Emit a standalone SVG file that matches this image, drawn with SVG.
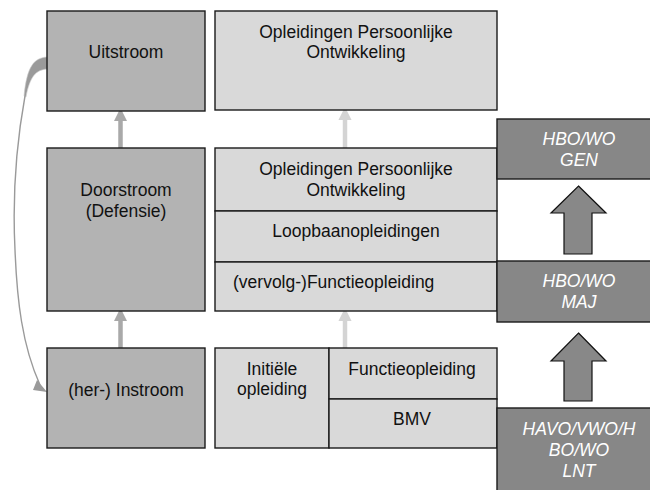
<svg xmlns="http://www.w3.org/2000/svg" width="650" height="490" viewBox="0 0 650 490">
<defs>
<style>
.box{stroke:#1a1a1a;stroke-width:1.4}
.dark{fill:#b3b3b3}
.light{fill:#d9d9d9}
.blk{fill:#878787}
text{font-family:"Liberation Sans",Arial,sans-serif;font-size:17.5px;fill:#111;text-anchor:middle}
.w{fill:#fff;font-style:italic}
.thinA{stroke-width:4.5;fill:none}
</style>
<marker id="ah1" markerWidth="3" markerHeight="3" refX="1.2" refY="1.5" orient="auto" markerUnits="strokeWidth" viewBox="0 0 3 3"><path d="M0,0 L3,1.5 L0,3 z" fill="#a9a9a9"/></marker>
<marker id="ah2" markerWidth="3" markerHeight="3" refX="1.2" refY="1.5" orient="auto" markerUnits="strokeWidth" viewBox="0 0 3 3"><path d="M0,0 L3,1.5 L0,3 z" fill="#d4d4d4"/></marker>
</defs>
<rect width="650" height="490" fill="#fff"/>
<g id="connectors">
<line x1="120.5" y1="148" x2="120.5" y2="116" class="thinA" stroke="#a9a9a9" marker-end="url(#ah1)"/>
<line x1="120.5" y1="348" x2="120.5" y2="316" class="thinA" stroke="#a9a9a9" marker-end="url(#ah1)"/>
<line x1="345" y1="148" x2="345" y2="115" class="thinA" stroke="#d4d4d4" marker-end="url(#ah2)"/>
<line x1="345" y1="348" x2="345" y2="316" class="thinA" stroke="#d4d4d4" marker-end="url(#ah2)"/>
<path d="M47,57 C34,58 27,66 24,96 L26,97 C30,76 36,70 47,69 Z" fill="#9a9a9a" stroke="#ccc" stroke-width="0.6"/>
<path d="M25,96 C17,140 12,190 15,250 C17,300 22,345 40,385" fill="none" stroke="#9a9a9a" stroke-width="1.4"/>
<path d="M47,392 L37,380 L33,390 Z" fill="#9a9a9a"/>
<polygon points="578.5,186 606,213 592,213 592,254 564,254 564,213 551,213" fill="#888" stroke="#111" stroke-width="1.2"/>
<polygon points="578.5,333 606,361 592,361 592,401 564,401 564,361 551,361" fill="#888" stroke="#111" stroke-width="1.2"/>
</g>
<g id="uitstroom"><rect x="47" y="11" width="158" height="100" class="box dark"/><text x="126" y="58">Uitstroom</text></g>
<g id="doorstroom"><rect x="47" y="148" width="158" height="163" class="box dark"/><text x="126" y="196">Doorstroom</text><text x="126" y="217">(Defensie)</text></g>
<g id="instroom"><rect x="47" y="348" width="158" height="100" class="box dark"/><text x="126" y="396">(her-) Instroom</text></g>
<g id="opo-top"><rect x="215" y="11" width="282" height="99" class="box light"/><text x="356" y="38">Opleidingen Persoonlijke</text><text x="356" y="58">Ontwikkeling</text></g>
<g id="opo-mid"><rect x="215" y="148" width="282" height="63" class="box light"/><text x="356" y="175">Opleidingen Persoonlijke</text><text x="356" y="195.5">Ontwikkeling</text></g>
<g id="loopbaan"><rect x="215" y="211" width="282" height="51" class="box light"/><text x="356" y="236.5">Loopbaanopleidingen</text></g>
<g id="vervolg"><rect x="215" y="262" width="282" height="49" class="box light"/><text x="233" y="287.5" style="text-anchor:start">(vervolg-)Functieopleiding</text></g>
<g id="initiele"><rect x="215" y="348" width="114" height="100" class="box light"/><text x="272" y="375">Initiële</text><text x="272" y="395">opleiding</text></g>
<g id="functie"><rect x="329" y="348" width="168" height="51" class="box light"/><text x="412" y="375">Functieopleiding</text></g>
<g id="bmv"><rect x="329" y="399" width="168" height="49" class="box light"/><text x="412" y="425">BMV</text></g>
<g id="hbo-gen"><rect x="497" y="119" width="165" height="60" class="box blk"/><text x="579" y="145" class="w">HBO/WO</text><text x="579" y="166" class="w">GEN</text></g>
<g id="hbo-maj"><rect x="497" y="261" width="165" height="61" class="box blk"/><text x="579" y="287" class="w">HBO/WO</text><text x="579" y="308" class="w">MAJ</text></g>
<g id="lnt"><rect x="497" y="408" width="165" height="95" class="box blk"/><text x="579" y="435" class="w">HAVO/VWO/H</text><text x="579" y="456" class="w">BO/WO</text><text x="579" y="477" class="w">LNT</text></g>
</svg>
